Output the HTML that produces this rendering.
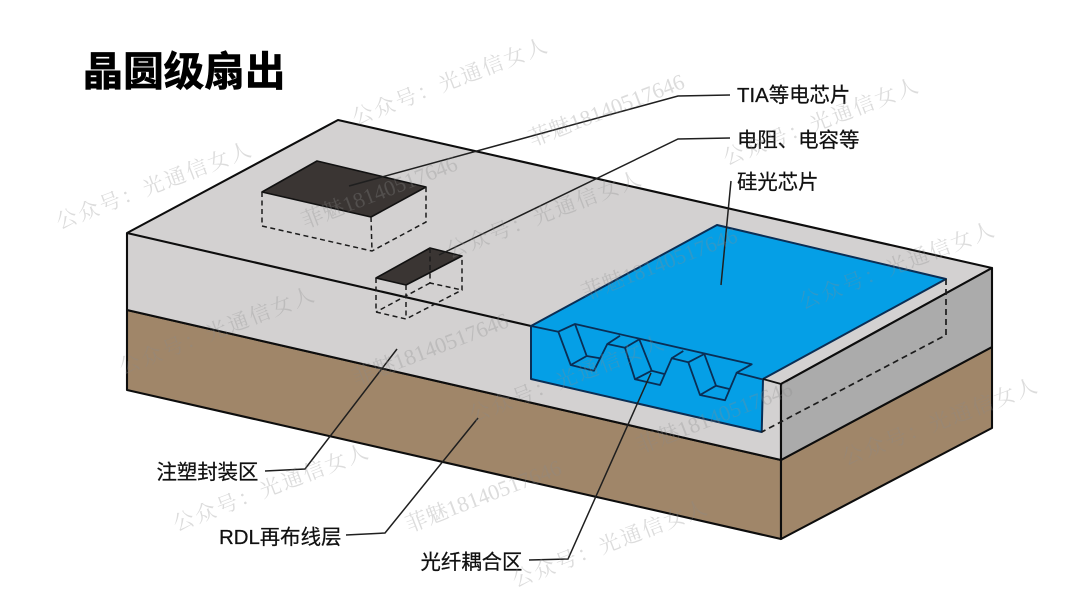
<!DOCTYPE html>
<html><head><meta charset="utf-8"><style>
html,body{margin:0;padding:0;background:#fff;width:1080px;height:607px;overflow:hidden}
svg{display:block;filter:blur(.35px)}
.l{font-family:"Liberation Sans","Noto Sans CJK SC",sans-serif;font-size:20.4px;fill:#111;stroke:#111;stroke-width:.25px}
.t{font-family:"Liberation Sans","Noto Sans CJK SC",sans-serif;font-size:40.6px;font-weight:700;fill:#000;stroke:#000;stroke-width:.7px}
.w{font-family:"Liberation Serif","Noto Serif CJK SC",serif;font-size:21px;fill:#8a8a8a;fill-opacity:.3;text-anchor:middle}
.a{letter-spacing:2.2px}
.b{font-size:22px}
</style></head><body>
<svg width="1080" height="607" viewBox="0 0 1080 607" xmlns="http://www.w3.org/2000/svg">
<rect width="1080" height="607" fill="#fff"/>
<!-- solid faces -->
<g stroke="#0d0d0d" stroke-width="2.1" stroke-linejoin="round">
<polygon points="127,310 781,460 781,539 127,390" fill="#a08669"/>
<polygon points="781,460 992,347 992,428 781,539" fill="#a08669"/>
<polygon points="127,233 338,120 992,268 781,384 781,460 127,310" fill="#d3d1d1"/>
<polygon points="781,384 992,268 992,347 781,460" fill="#ababab"/>
<line x1="127" y1="233" x2="531" y2="326"/>
</g>
<!-- chips -->
<g stroke="#111" stroke-width="1.6" stroke-linejoin="round">
<polygon points="262,192 317,161 426,187 371,217" fill="#3a3533"/>
<polygon points="376,278 430,248 462,256 406,285" fill="#3a3533"/>
</g>
<g fill="none" stroke="#1c1c1c" stroke-width="1.5" stroke-dasharray="5 3.5">
<path d="M262,192V226L372,251L426,222V187M371,217L372,251"/>
<path d="M376,278V312L406,319L462,290V256M406,285V319M430,248V283L462,290M430,283L376,312"/>
</g>
<!-- silicon photonic chip -->
<polygon points="531,326 717,225 946,279 763,379 761.7,432 531,379" fill="#059fe6" stroke="#0a2e55" stroke-width="2" stroke-linejoin="round"/>
<g fill="none" stroke="#0a2e55" stroke-width="1.8" stroke-linejoin="round">
<path d="M531,326L558.3,331.7L575,324L751.7,364.3L736.7,372.7L762,379.3"/>
<path d="M558.3,331.7L570.7,365L594,370.7L607.3,344L625,347.7L639.3,339.3"/>
<path d="M575,324L586.7,356L600,358.3M570.7,365L586.7,356"/>
<path d="M607.3,344L620,335.7"/>
<path d="M625,347.7L635,379.3L660,385L671.7,358.3L688.3,362.3L704.3,354"/>
<path d="M639.3,339.3L651.7,370.7L664.3,374M635,379.3L651.7,370.7"/>
<path d="M671.7,358.3L683.3,351"/>
<path d="M688.3,362.3L700,395L725,400.3L736.7,372.7"/>
<path d="M704.3,354L716,385.7L729.3,389M700,395L716,385.7"/>
</g>
<path d="M763,379L781,384" stroke="#111" stroke-width="1.8"/>
<path d="M946,279V335L761.7,432" fill="none" stroke="#1c1c1c" stroke-width="1.7" stroke-dasharray="6 4"/>
<!-- leaders -->
<g fill="none" stroke="#1f1f1f" stroke-width="1.5">
<path d="M349,186L678,96L730,95"/>
<path d="M439,255L678,139L730,138"/>
<path d="M721,285L731,181"/>
<path d="M265,471L305,469L397,349"/>
<path d="M346,535L385,533L478,418"/>
<path d="M529,560L568,559L651,373"/>
</g>
<!-- labels -->
<text class="t" x="82.5" y="85.5">晶圆级扇出</text>
<text class="l" x="737" y="102">TIA等电芯片</text>
<text class="l" x="737" y="147">电阻、电容等</text>
<text class="l" x="737" y="189">硅光芯片</text>
<text class="l" x="156.5" y="479">注塑封装区</text>
<text class="l" x="219" y="544">RDL再布线层</text>
<text class="l" x="420.5" y="569">光纤耦合区</text>
<!-- watermarks -->
<g class="w">
<text class="w a" transform="translate(157,192) rotate(-21)">公众号：光通信女人</text>
<text class="w a" transform="translate(453,88) rotate(-21)">公众号：光通信女人</text>
<text class="w a" transform="translate(220,337) rotate(-21)">公众号：光通信女人</text>
<text class="w a" transform="translate(547,221) rotate(-21)">公众号：光通信女人</text>
<text class="w a" transform="translate(824,128) rotate(-21)">公众号：光通信女人</text>
<text class="w a" transform="translate(900,272) rotate(-21)">公众号：光通信女人</text>
<text class="w a" transform="translate(274,494) rotate(-21)">公众号：光通信女人</text>
<text class="w a" transform="translate(570,385) rotate(-21)">公众号：光通信女人</text>
<text class="w a" transform="translate(943,428) rotate(-21)">公众号：光通信女人</text>
<text class="w a" transform="translate(613,550) rotate(-21)">公众号：光通信女人</text>
<text class="w a" transform="translate(780,-40) rotate(-21)">公众号：光通信女人</text>
<text class="w b" transform="translate(609,117) rotate(-21)">菲魅18140517646</text>
<text class="w b" transform="translate(382,199) rotate(-21)">菲魅18140517646</text>
<text class="w b" transform="translate(433,356) rotate(-21)">菲魅18140517646</text>
<text class="w b" transform="translate(662,271) rotate(-21)">菲魅18140517646</text>
<text class="w b" transform="translate(717,424) rotate(-21)">菲魅18140517646</text>
<text class="w b" transform="translate(486,503) rotate(-21)">菲魅18140517646</text>
</g>
</svg>
</body></html>
